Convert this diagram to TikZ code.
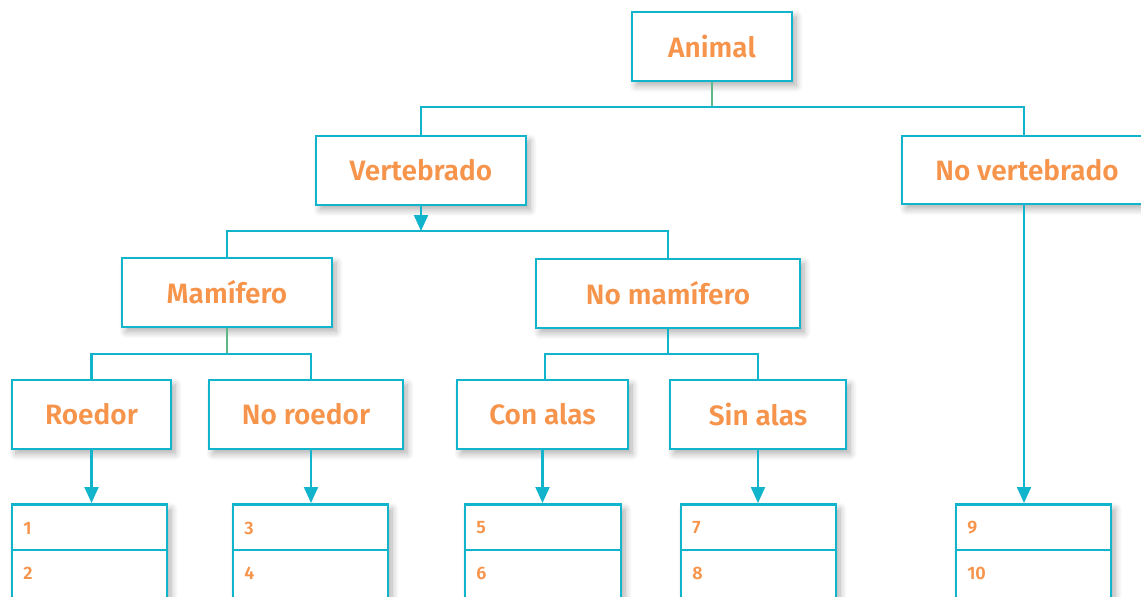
\documentclass[tikz,border=0pt]{standalone}
\usepackage{fontspec}
\setmainfont{Fira Sans}[BoldFont={Fira Sans SemiBold}]
\usetikzlibrary{arrows.meta,shadows.blur}
\definecolor{cy}{HTML}{12B4CC}
\definecolor{org}{HTML}{F7944B}
\definecolor{grn}{HTML}{5DB885}
\tikzset{
  shd/.style={blur shadow={shadow xshift=3pt, shadow yshift=-3.5pt, shadow blur radius=5pt, shadow blur steps=8, shadow opacity=32}},
  box/.style={draw=cy, line width=2.2pt, fill=white, text=org, font=\bfseries\fontsize{21}{24}\selectfont,
    shd, inner sep=0pt},
  lst/.style={draw=cy, line width=2.2pt, fill=white, inner sep=0pt, shd},
  num/.style={text=org, font=\bfseries\fontsize{13.5}{15}\selectfont, anchor=west, inner sep=0pt},
  conn/.style={draw=cy, line width=1.6pt},
  gconn/.style={draw=grn, line width=1.6pt},
  arr/.style={conn, -{Triangle[length=12pt,width=10.5pt]}},
}
\newcommand{\mkbox}[6]{\node[box, minimum width={(#4-#2)*0.75pt}, minimum height={(#5-#3)*0.75pt}] (#1) at ({(#2+#4)/2},{(#3+#5)/2}) {#6};}
\newcommand{\mklist}[5]{%
  \node[lst, minimum width={(#3-#2)*0.75pt}, minimum height={(640-503)*0.75pt}, anchor=north] (#1) at ({(#2+#3)/2},503) {};
  \coordinate (#1l) at (#2,550);
  \coordinate (#1r) at (#3,550);
  \draw[conn, line width=2.2pt] (#1l) -- (#1r);
  \node[num] (#1a) at ({#2+11},528) {#4};
  \node[num] (#1b) at ({#2+11},573) {#5};
}
\begin{document}
\begin{tikzpicture}[x=0.75pt,y=-0.75pt]
\useasboundingbox (0,0) rectangle (1141,596);
\clip (0,0) rectangle (1141,596);
\mkbox{animal}{632}{12}{792}{81}{Animal}
\mkbox{vert}{316}{136}{526}{205}{Vertebrado}
\mkbox{novert}{902}{136}{1152}{204}{No vertebrado}
\mkbox{mam}{122}{258}{332}{327}{Mamífero}
\mkbox{nomam}{536}{259}{800}{328}{No mamífero}
\mkbox{roe}{12}{380}{171}{449}{Roedor}
\mkbox{noroe}{209}{380}{403}{449}{No roedor}
\mkbox{con}{457}{380}{628}{449}{Con alas}
\mkbox{sin}{670}{380}{846}{449}{Sin alas}
\mklist{la}{12}{167}{1}{2}
\mklist{lb}{233}{388}{3}{4}
\mklist{lc}{465}{621}{5}{6}
\mklist{ld}{681}{836}{7}{8}
\mklist{le}{956}{1111}{9}{10}
% junctions
\coordinate (ja) at (712,107);
\coordinate (jb) at (421,231);
\coordinate (jc) at (227,354);
\coordinate (jd) at (668,354);
\draw[gconn] (animal.south) -- (ja);
\draw[conn] (vert.north) |- (ja) -| ([xshift=-2.25pt]novert.north);
\draw[arr] (vert.south) -- (jb);
\draw[conn] (mam.north) |- (jb) -| (nomam.north);
\draw[gconn] (mam.south) -- (jc);
\draw[conn] (roe.north) |- (jc) -| ([xshift=3.75pt]noroe.north);
\draw[conn] (nomam.south) -- (jd);
\draw[conn] ([xshift=2pt]con.north) |- (jd) -| (sin.north);
\draw[arr] (roe.south) -- (roe.south |- la.north);
\draw[arr] ([xshift=3.75pt]noroe.south) -- ([xshift=3.75pt]noroe.south |- lb.north);
\draw[arr] (con.south) -- (con.south |- lc.north);
\draw[arr] (sin.south) -- (sin.south |- ld.north);
\draw[arr] ([xshift=-2.25pt]novert.south) -- ([xshift=-2.25pt]novert.south |- le.north);
\end{tikzpicture}
\end{document}
